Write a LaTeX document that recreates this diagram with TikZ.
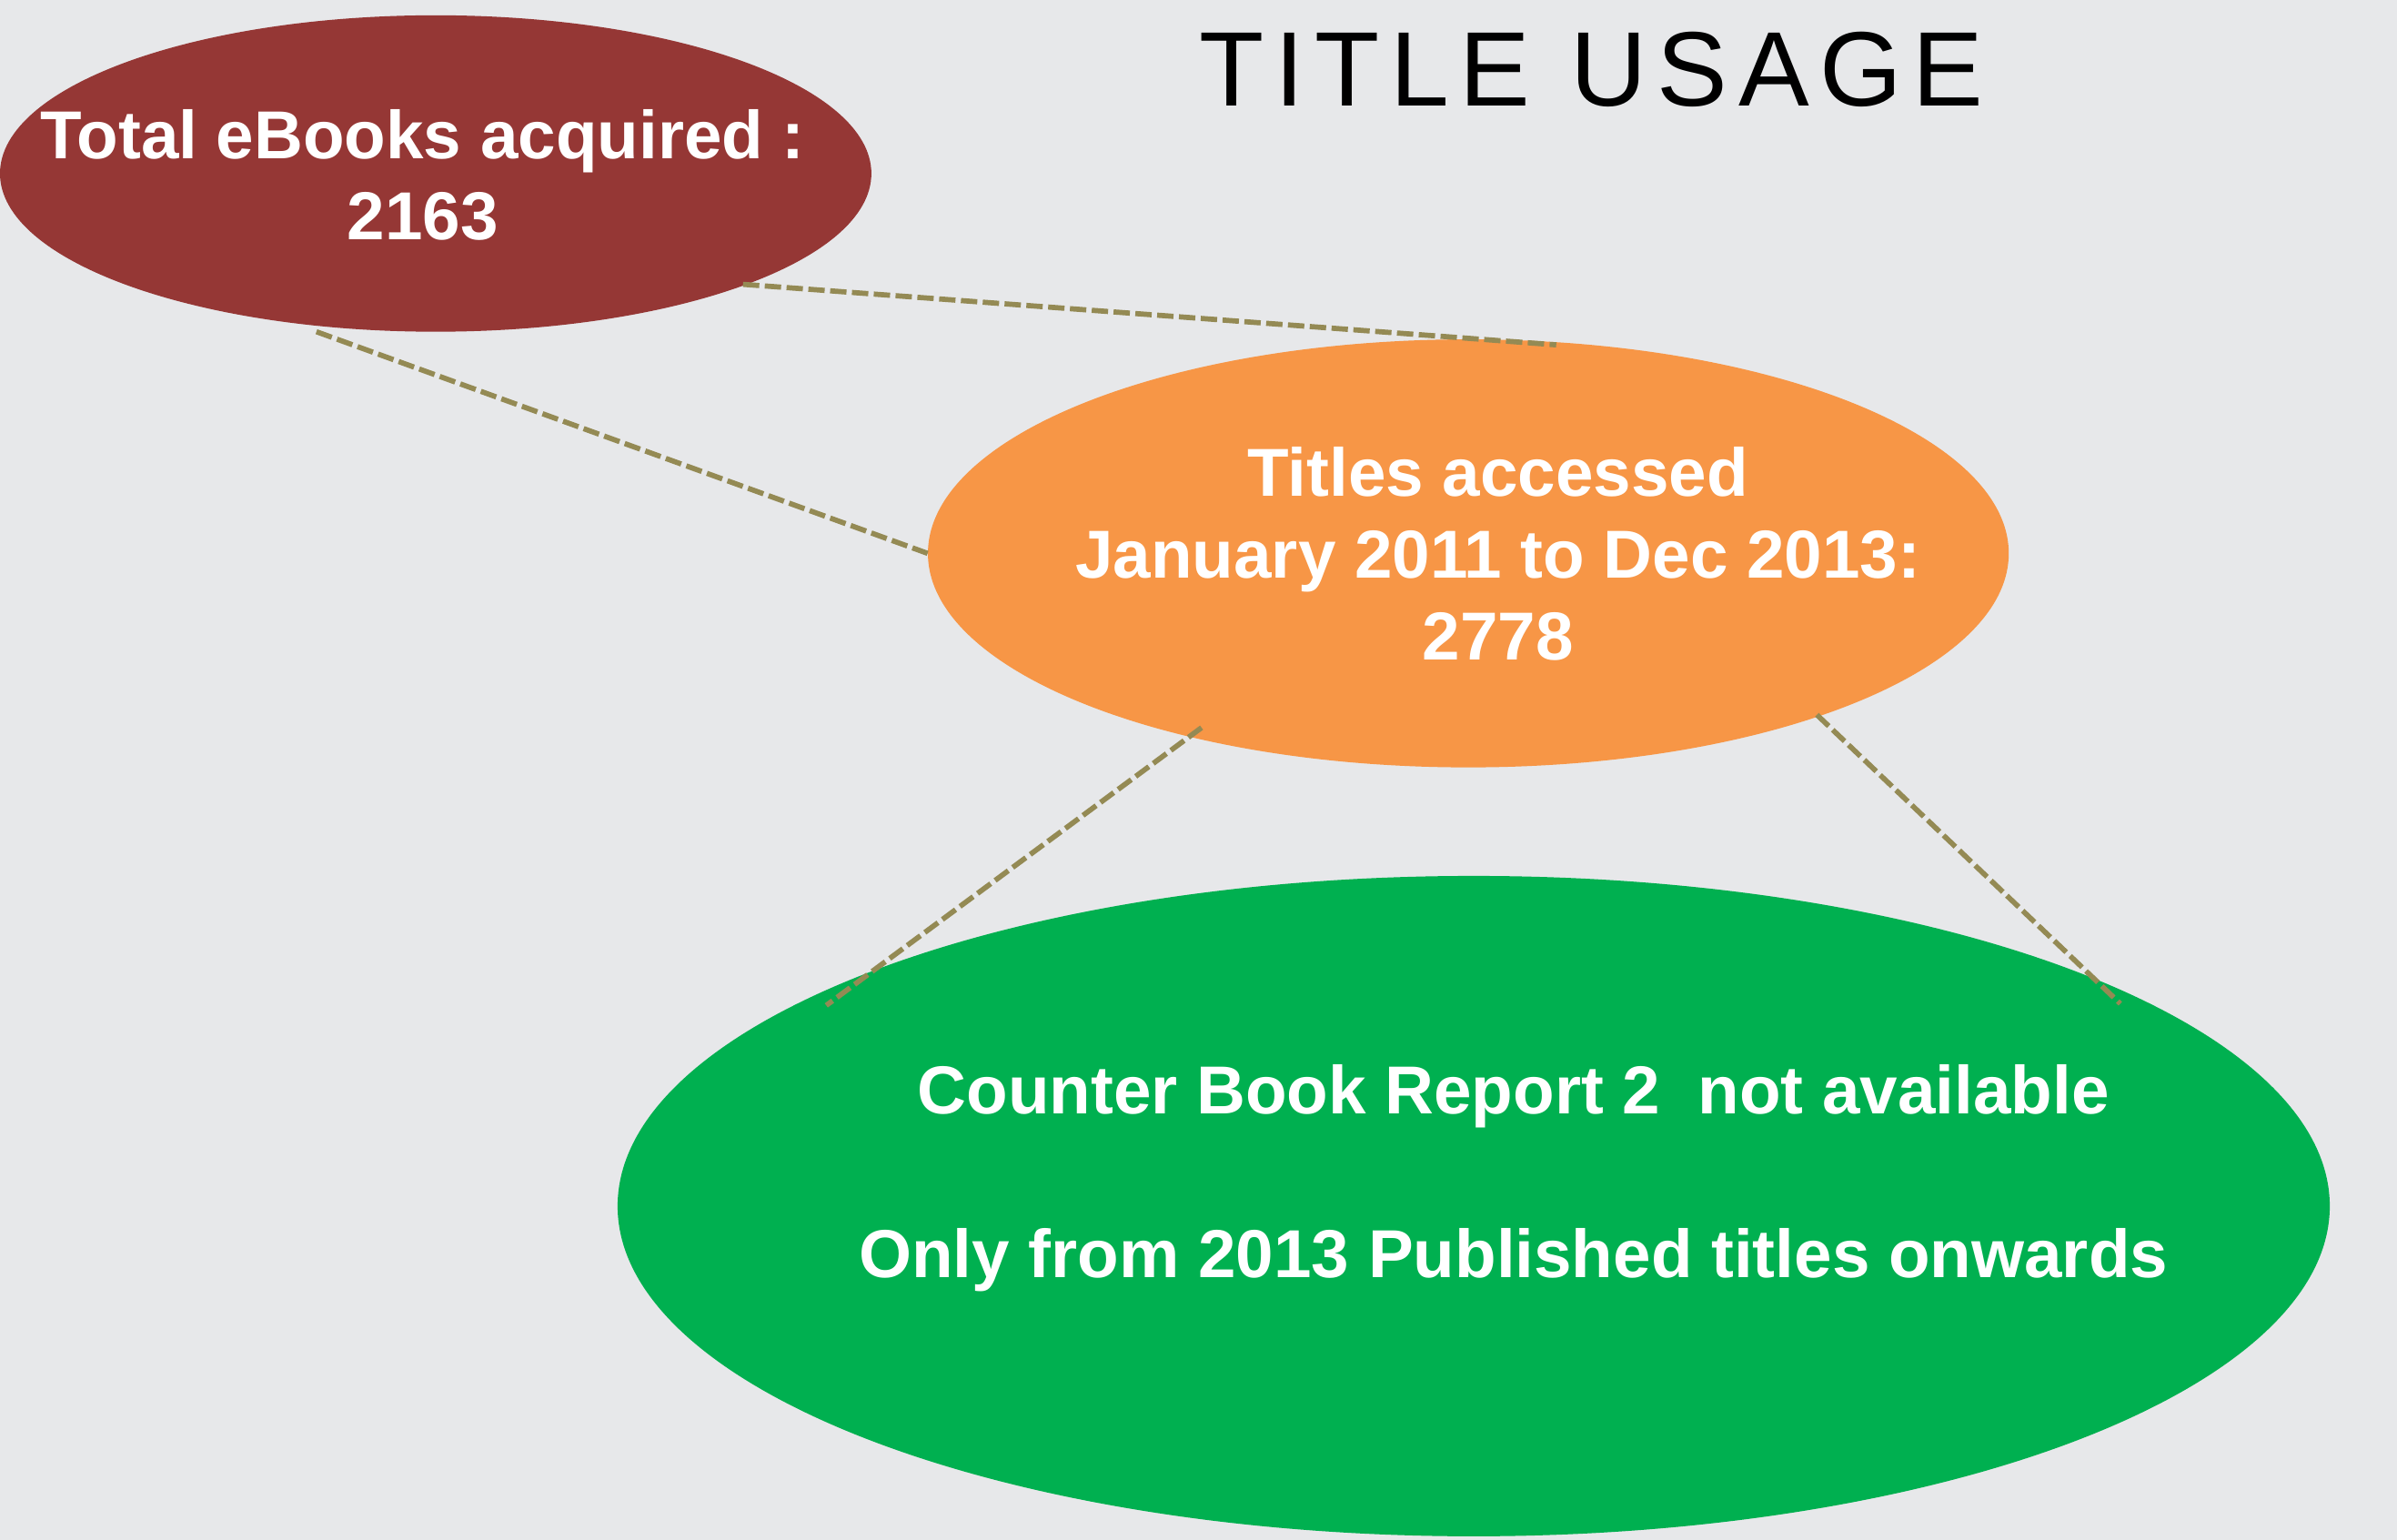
\documentclass[tikz,border=0pt]{standalone}
\usepackage{fontspec}
\setmainfont{Liberation Sans}
\newfontfamily\titlefont[LetterSpace=10]{Liberation Sans}
\usetikzlibrary{shapes.geometric,calc}
\definecolor{bgc}{HTML}{E7E8EA}
\definecolor{redc}{HTML}{953735}
\definecolor{orangec}{HTML}{F79646}
\definecolor{greenc}{HTML}{00B050}
\definecolor{linkc}{HTML}{948A54}
\begin{document}
\begin{tikzpicture}[x=1pt,y=-1pt,
  ell/.style={ellipse,draw=none,inner sep=0pt},
  txt/.style={text=white,align=center,font=\bfseries\fontsize{44.4}{53.5}\selectfont,inner sep=0pt},
  link/.style={draw=linkc,line width=3.4pt,dash pattern=on 10.7pt off 3.6pt}]
\fill[bgc] (0,0) rectangle (1568,1007.4);
\useasboundingbox (0,0) rectangle (1568,1007.4);
\node[ell,fill=redc,minimum width=570pt,minimum height=207pt] (red) at (285,113.5) {};
\node[ell,fill=orangec,minimum width=707pt,minimum height=280pt] (orange) at (960.5,362) {};
\node[ell,fill=greenc,minimum width=1120pt,minimum height=432pt] (green) at (964,789) {};
\node[txt] (redtxt) at (276.5,114.5) {Total eBooks acquired :\\2163};
\node[txt] (orangetxt) at (980,362.2) {Titles accessed\\January 2011 to Dec 2013:\\2778};
\node[txt] (greentxt) at (990,770.9) {Counter Book Report 2\ \ not available\\[53.5pt]Only from 2013 Published titles onwards};
\node[anchor=base,inner sep=0pt,font=\titlefont\fontsize{69.3}{80}\selectfont] (title) at (1041,69.2) {TITLE USAGE};
\draw[link] ($(red.center)+(201,72.5)$) -- ($(orange.center)+(57.5,-136.4)$);
\draw[link] ($(red.center)+(-78,103.5)$) -- (orange.west);
\draw[link] ($(orange.center)+(-174.5,114)$) -- ($(green.center)+(-423.5,-131.3)$);
\draw[link] ($(orange.center)+(228,105.6)$) -- ($(green.center)+(423,-132.4)$);
\end{tikzpicture}
\end{document}
